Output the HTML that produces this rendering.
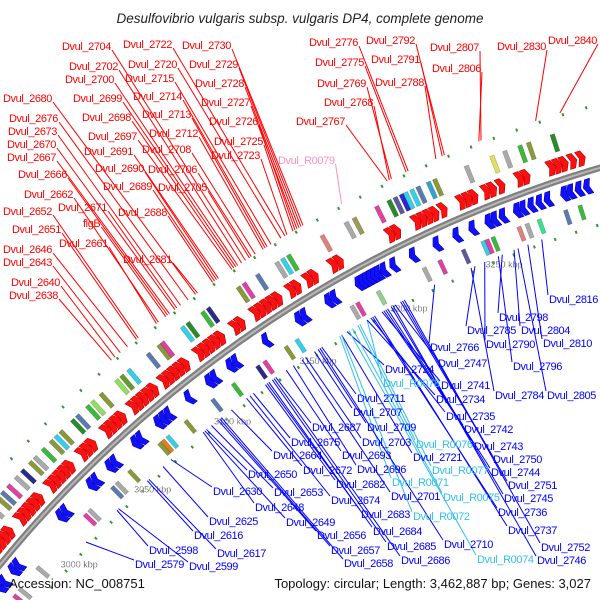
<!DOCTYPE html>
<html><head><meta charset="utf-8"><style>
html,body{margin:0;padding:0;background:#fff;}
svg{display:block;font-family:"Liberation Sans",sans-serif;}
</style></head><body>
<svg id="map" width="600" height="600" viewBox="0 0 600 600" xmlns="http://www.w3.org/2000/svg">
<rect width="600" height="600" fill="#fff"/>
<text x="300" y="23" text-anchor="middle" font-size="13.5" font-style="italic" fill="#222">Desulfovibrio vulgaris subsp. vulgaris DP4, complete genome</text>
<g id="features"></g>
<g id="lines"></g>
<g id="labels"></g>
<text x="9" y="588" font-size="13" fill="#111">Accession: NC_008751</text>
<text x="591" y="588" font-size="13" text-anchor="end" fill="#111">Topology: circular; Length: 3,462,887 bp; Genes: 3,027</text>
</svg>
<script>
// ---- data ----
const tickKbp = [3000, 3050, 3100, 3150, 3200, 3250];
const tickLabels = ["3000 kbp", "3050 kbp", "3100 kbp", "3150 kbp", "3200 kbp", "3250 kbp"];
const fwdGenes = [2966,2969,2972,2976,2979,2982,2985,2988,2996,2999,3002,3005,3008,3016,3019,3022,3025,3028,3036,3039,3042,3051,3054,3057,3060,3067,3070,3073,3076,3079,3085,3088,3091,3094,3097,3105,3108,3111,3114,3117,3125,3128,3136,3139,3142,3145,3148,3155,3158,3164,3167,3177,3180,3206,3209,3219,3222,3225,3228,3232,3241,3244,3247,3253,3256,3260,3269,3272,3284,3287,3290,3294,3298,3311,3314,3318,3322,3326];
const revGenes = [2966,2969,2976,2979,3009,3012,3029,3032,3041,3044,3057,3060,3071,3074,3077,3089,3101,3104,3113,3116,3133,3151,3154,3167,3170,3183,3185,3187,3189,3191,3193,3196,3201,3211,3223,3233,3241,3249,3252,3256,3263,3266,3270,3274,3278,3286,3289,3293,3297,3306,3310,3314,3318,3322,3326];
const outerBoxes = [[2968,"#3cb83c"],[2974,"#33d0e8"],[2980,"#8a9a3a"],[2983,"#33d0e8"],[2987,"#8a9a3a"],[2992,"#aaaaaa"],[2997,"#8a9a3a"],[3000,"#5a7ab0"],[3004,"#e040a0"],[3009,"#aaaaaa"],[3013,"#2a2a8a"],[3018,"#8a9a3a"],[3021,"#aaaaaa"],[3026,"#3cb83c"],[3031,"#8a9a3a"],[3034,"#33d0e8"],[3037,"#8a9a3a"],[3044,"#2a8a2a"],[3047,"#5a7ab0"],[3053,"#3cb83c"],[3056,"#90e060"],[3061,"#8a9a3a"],[3070,"#90e060"],[3073,"#6a9a2a"],[3077,"#33d0e8"],[3088,"#5a7ab0"],[3094,"#8a9a3a"],[3096,"#e040a0"],[3107,"#33d0e8"],[3110,"#2a8a2a"],[3118,"#3cb83c"],[3121,"#2a2a8a"],[3137,"#8a9a3a"],[3140,"#e040a0"],[3147,"#5a7ab0"],[3157,"#aaaaaa"],[3160,"#33d0e8"],[3163,"#3cb83c"],[3180,"#e08080"],[3192,"#aaaaaa"],[3196,"#9a9a5a"],[3207,"#e040a0"],[3213,"#2a8a2a"],[3216,"#5a5a9a"],[3219,"#2a2acc"],[3221,"#33d0e8"],[3224,"#33d0e8"],[3227,"#5a7ab0"],[3232,"#33a0d0"],[3235,"#8a9a3a"],[3250,"#aaaaaa"],[3262,"#e0e060"],[3268,"#aaaaaa"],[3275,"#3cb83c"],[3279,"#8a9a3a"],[3290,"#2a8a2a"]];
const innerBoxes = [[2968,"#e040a0"],[2972,"#aaaaaa"],[2985,"#aaaaaa"],[3018,"#e040a0"],[3021,"#aaaaaa"],[3036,"#5a7ab0"],[3039,"#aaaaaa"],[3047,"#8a9a3a"],[3066,"#8a9a3a"],[3068,"#e08020"],[3071,"#33d0e8"],[3082,"#8a9a3a"],[3098,"#5a7ab0"],[3110,"#3cb83c"],[3124,"#2a2a8a"],[3128,"#e040a0"],[3140,"#8a9a3a"],[3146,"#33d0e8"],[3176,"#aaaaaa"],[3179,"#e040a0"],[3190,"#90d090"],[3214,"#aaaaaa"],[3222,"#e040a0"],[3234,"#5a5a9a"],[3244,"#33d0e8"],[3246,"#e040a0"],[3249,"#3cb83c"],[3262,"#e08080"],[3266,"#aaaaaa"],[3272,"#3ce090"],[3285,"#5a7ab0"],[3292,"#3cb83c"]];
const redNames = ["Dvul_2704","Dvul_2722","Dvul_2730","Dvul_2702","Dvul_2720","Dvul_2729","Dvul_2700","Dvul_2715","Dvul_2728","Dvul_2680","Dvul_2699","Dvul_2714","Dvul_2727","Dvul_2676","Dvul_2698","Dvul_2713","Dvul_2726","Dvul_2673","Dvul_2697","Dvul_2712","Dvul_2670","Dvul_2725","Dvul_2691","Dvul_2708","Dvul_2723","Dvul_2667","Dvul_2690","Dvul_2706","Dvul_2666","Dvul_2689","Dvul_2705","Dvul_2662","Dvul_2671","Dvul_2652","Dvul_2688","flgB","Dvul_2651","Dvul_2661","Dvul_2646","Dvul_2681","Dvul_2643","Dvul_2640","Dvul_2638","Dvul_2776","Dvul_2792","Dvul_2807","Dvul_2830","Dvul_2840","Dvul_2775","Dvul_2791","Dvul_2806","Dvul_2769","Dvul_2788","Dvul_2768","Dvul_2767","Dvul_R0079"];
const redPos = [[62,46],[123,44],[182,45],[69,66],[128,64],[189,64],[65,79],[125,78],[195,83],[3,98],[73,98],[133,96],[201,102],[9,118],[82,117],[142,114],[209,121],[8,131],[88,136],[149,133],[7,144],[214,141],[84,151],[142,149],[211,155],[7,157],[95,168],[148,169],[18,174],[103,186],[158,187],[24,194],[58,207],[3,211],[118,212],[83,223],[12,229],[59,243],[3,249],[123,259],[3,262],[11,282],[9,295],[309,42],[366,40],[430,47],[497,46],[548,40],[315,62],[371,59],[432,68],[317,83],[375,82],[324,102],[296,121],[278,160]];
const redKbp = [3147,3167,3176,3145,3165,3175,3143,3160,3174,3121,3142,3158,3173,3117,3141,3157,3172,3113,3140,3156,3110,3171,3133,3152,3168,3107,3132,3150,3106,3131,3149,3101,3111,3090,3130,3105,3089,3100,3084,3122,3080,3077,3075,3227,3244,3261,3286,3297,3226,3243,3260,3219,3240,3218,3217,3195];
const blueNames = ["Dvul_2816","Dvul_2798","Dvul_2785","Dvul_2804","Dvul_2766","Dvul_2790","Dvul_2810","Dvul_2747","Dvul_2796","Dvul_2724","Dvul_R0078","Dvul_2741","Dvul_2711","Dvul_2734","Dvul_2784","Dvul_2805","Dvul_2707","Dvul_2735","Dvul_2687","Dvul_2709","Dvul_2742","Dvul_2675","Dvul_2703","Dvul_R0076","Dvul_2743","Dvul_2664","Dvul_2693","Dvul_2721","Dvul_2750","Dvul_2650","Dvul_2672","Dvul_2696","Dvul_R0077","Dvul_2744","Dvul_2682","Dvul_R0071","Dvul_2751","Dvul_2630","Dvul_2653","Dvul_2674","Dvul_2701","Dvul_R0075","Dvul_2745","Dvul_2648","Dvul_2736","Dvul_2683","Dvul_R0072","Dvul_2625","Dvul_2649","Dvul_2737","Dvul_2616","Dvul_2656","Dvul_2684","Dvul_2617","Dvul_2685","Dvul_2657","Dvul_2710","Dvul_2752","Dvul_2598","Dvul_2658","Dvul_2686","Dvul_R0074","Dvul_2746","Dvul_2579","Dvul_2599"];
const bluePos = [[549,299],[499,317],[467,330],[521,330],[430,347],[486,344],[543,343],[438,363],[513,366],[385,369],[383,383],[441,385],[357,398],[436,399],[495,395],[547,395],[353,412],[446,416],[312,427],[367,427],[464,429],[291,442],[362,442],[416,444],[474,446],[273,455],[342,455],[413,457],[493,459],[248,474],[303,470],[357,469],[432,470],[491,472],[336,484],[392,482],[508,485],[213,491],[274,492],[331,500],[391,496],[443,497],[504,498],[255,507],[498,512],[361,514],[413,516],[209,521],[286,522],[508,530],[194,535],[317,535],[373,531],[217,553],[387,546],[331,550],[444,544],[541,547],[149,550],[344,563],[401,560],[477,559],[537,560],[135,564],[189,566]];
const blueKbp = [3271,3251,3237,3257,3216,3242,3264,3195,3249,3169,3180,3188,3155,3180,3235,3259,3151,3182,3129,3153,3189,3116,3146,3175,3190,3103,3135,3166,3198,3088,3112,3139,3176,3191,3123,3165,3199,3066,3091,3114,3144,3172,3193,3086,3183,3124,3166,3061,3087,3184,3051,3095,3125,3052,3127,3096,3154,3200,3031,3097,3128,3170,3194,3010,3032];

// ---- axis functions ----
const CX = 941, CY = 1335, R = 1216;
const A0 = -127.8, K = 360 / 3462.887;
function ang(kbp){ return (A0 + (kbp - 3100) * K) * Math.PI / 180; }
function pol(kbp, r){ const a = ang(kbp); return [CX + r * Math.cos(a), CY + r * Math.sin(a)]; }
const NS = "http://www.w3.org/2000/svg";
function mk(tag, parent){ const e = document.createElementNS(NS, tag); parent.appendChild(e); return e; }
function pts(arr){ return arr.map(p => p[0].toFixed(1) + "," + p[1].toFixed(1)).join(" "); }
const feat = document.getElementById("features");
const linesG = document.getElementById("lines");
const labG = document.getElementById("labels");

// green dots
for (let k = 2962; k < 3335; k += 10.5) {
  [[R + 60, R + 63], [R - 56, R - 53]].forEach(rr => {
    const a = pol(k, rr[0]), b = pol(k, rr[1]);
    const d = mk("line", feat);
    
    
    d.setAttribute("x1", a[0]); d.setAttribute("y1", a[1]); d.setAttribute("x2", b[0]); d.setAttribute("y2", b[1]);
    d.setAttribute("stroke", "#2a9a2a"); d.setAttribute("stroke-width", "2");
  });
}
// boxes
function box(k, c, r1, r2, name){
  const p = mk("polygon", feat);
  
  
  p.setAttribute("points", pts([pol(k, r1), pol(k + 2, r1), pol(k + 2, r2), pol(k, r2)]));
  p.setAttribute("fill", c); p.setAttribute("stroke", "rgba(0,0,0,0.25)"); p.setAttribute("stroke-width", "0.6");
}
outerBoxes.forEach(b => box(b[0], b[1], R + 28, R + 46, 'outer-feature-box'));
innerBoxes.forEach(b => box(b[0], b[1], R - 30, R - 45, 'inner-feature-box'));
// genes
fwdGenes.forEach(s => {
  const r1 = R + 7, r2 = R + 22, rm = (r1 + r2) / 2, e = s + 4;
  const p = mk("polygon", feat);
  
  
  p.setAttribute("points", pts([pol(s, r1), pol(e - 1.6, r1), pol(e, rm), pol(e - 1.6, r2), pol(s, r2), pol(s + 1.2, rm)]));
  p.setAttribute("fill", "#ff1010"); p.setAttribute("stroke", "#b00000"); p.setAttribute("stroke-width", "0.6");
});
revGenes.forEach(s => {
  const r1 = R - 7, r2 = R - 22, rm = (r1 + r2) / 2, e = s + 4;
  const p = mk("polygon", feat);
  
  
  p.setAttribute("points", pts([pol(e, r1), pol(s + 1.6, r1), pol(s, rm), pol(s + 1.6, r2), pol(e, r2), pol(e - 1.2, rm)]));
  p.setAttribute("fill", "#1010ff"); p.setAttribute("stroke", "#0000a0"); p.setAttribute("stroke-width", "0.6");
});
// backbone
const bb = [];
for (let k = 2950; k <= 3345; k += 2) bb.push(pol(k, R));
[["#808080", 6.5], ["#b8b8b8", 2]].forEach(s => {
  const l = mk("polyline", feat);
  
  
  l.setAttribute("points", pts(bb)); l.setAttribute("fill", "none");
  l.setAttribute("stroke", s[0]); l.setAttribute("stroke-width", s[1]);
});
// ticks
tickKbp.forEach((k, i) => {
  const p = pol(k, R - 60);
  const t = mk("text", feat);
  
  
  t.setAttribute("x", p[0]); t.setAttribute("y", p[1] + 3);
  t.setAttribute("text-anchor", "middle"); t.setAttribute("font-size", "9");
  t.setAttribute("fill", "#444"); t.setAttribute("stroke", "#fff"); t.setAttribute("stroke-width", "0.2");
  t.textContent = tickLabels[i];
});
// labels
function label(name, pos, kbp, side){
  const isRNA = name.indexOf("R00") >= 0;
  let col = side === "red" ? "#ff0000" : "#0000ff";
  if (isRNA) col = side === "red" ? "#ff90c0" : "#30c0f0";
  const t = mk("text", labG);
  
  
  t.setAttribute("x", pos[0]); t.setAttribute("y", pos[1] + 4);
  t.setAttribute("font-size", "11"); t.setAttribute("letter-spacing", "-0.4"); t.setAttribute("fill", col);
  t.textContent = name;
  const w = t.getComputedTextLength();
  let a, b;
  if (side === "red") { a = [pos[0] + w + 1, pos[1] + 4]; b = pol(kbp, R + 64); }
  else { a = [pos[0] - 1, pos[1] - 4]; b = pol(kbp, R - 50); }
  const l = mk("line", linesG);
  
  
  l.setAttribute("x1", a[0]); l.setAttribute("y1", a[1]); l.setAttribute("x2", b[0]); l.setAttribute("y2", b[1]);
  l.setAttribute("stroke", col); l.setAttribute("stroke-width", "1");
}
redNames.forEach((n, i) => label(n, redPos[i], redKbp[i], "red"));
blueNames.forEach((n, i) => label(n, bluePos[i], blueKbp[i], "blue"));
</script>
</body></html>
